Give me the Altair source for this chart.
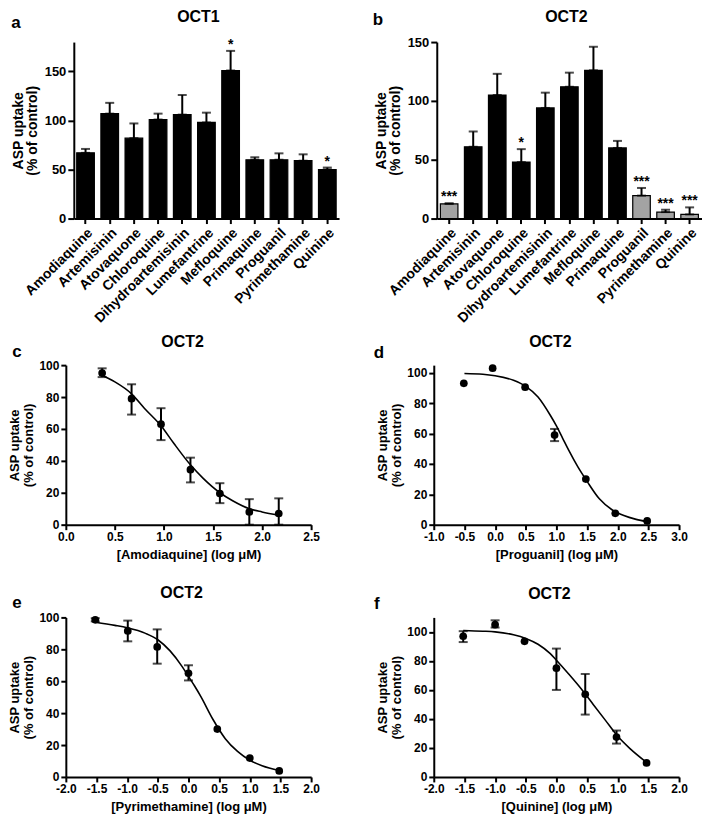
import altair as alt
import pandas as pd

FONT = "Liberation Sans"
YTITLE = ["ASP uptake", "(% of control)"]

# ---- panels a / b : bar charts ----
drugs = ["Amodiaquine", "Artemisinin", "Atovaquone", "Chloroquine", "Dihydroartemisinin",
         "Lumefantrine", "Mefloquine", "Primaquine", "Proguanil", "Pyrimethamine", "Quinine"]
oct1_mean = [67, 107, 82, 101, 106, 98, 151, 60, 60, 59, 50]
oct1_upper = [71, 118, 97, 107, 126, 108, 171, 62.5, 66.5, 65.5, 52]
oct1_sig = ["", "", "", "", "", "", "*", "", "", "", "*"]
oct1_fill = ["black"] * 11

oct2_mean = [12.5, 61, 105, 48, 94, 112, 126, 60, 19.5, 5.5, 3.5]
oct2_upper = [13, 74, 123, 59, 107, 124, 146, 66, 26, 7.5, 9.5]
oct2_sig = ["***", "", "", "*", "", "", "", "", "***", "***", "***"]
oct2_fill = ["#a3a3a3", "black", "black", "black", "black", "black", "black", "black",
             "#a3a3a3", "#a3a3a3", "#a3a3a3"]

# ---- panel c : amodiaquine ----
amod_x = [0.37, 0.67, 0.97, 1.27, 1.57, 1.87, 2.17]
amod_y = [95, 79, 63, 34.5, 19.5, 8, 7]
amod_lo = [92.5, 69, 53, 26.5, 13.5, 0, 0]
amod_hi = [98, 88, 73, 42, 26, 16, 16.5]
amod_cx = [0.37, 0.5, 0.67, 0.8, 0.97, 1.1, 1.27, 1.4, 1.57, 1.7, 1.87, 2.0, 2.17]
amod_cy = [93.5, 89.5, 82, 73, 62, 51, 37.5, 29, 20, 15, 10, 8, 6]

# ---- panel d : proguanil ----
prog_x = [-0.51, -0.04, 0.49, 0.97, 1.48, 1.96, 2.48]
prog_y = [93, 103, 90.5, 59, 30, 7.5, 2.5]
prog_lo = [93, 103, 90.5, 55, 30, 7.5, 2.5]
prog_hi = [93, 103, 90.5, 63, 30, 7.5, 2.5]
prog_cx = [-0.5, -0.2, 0.0, 0.3, 0.5, 0.7, 0.9, 1.0, 1.1, 1.2, 1.35, 1.5, 1.7, 1.9, 2.1, 2.3, 2.48]
prog_cy = [99.5, 99, 98, 95, 91, 84, 72, 65, 57, 49, 38, 28.5, 17, 10, 6, 3.5, 2]

# ---- panel e : pyrimethamine ----
pyr_x = [-1.52, -0.99, -0.51, 0.0, 0.47, 1.0, 1.48]
pyr_y = [98.5, 91.5, 81.5, 65, 30, 11.8, 3.8]
pyr_lo = [97.5, 85, 71, 60.5, 30, 11.8, 3.8]
pyr_hi = [99.5, 98, 92.5, 70, 30, 11.8, 3.8]
pyr_cx = [-1.52, -1.2, -1.0, -0.7, -0.5, -0.3, -0.1, 0.0, 0.1, 0.2, 0.4, 0.6, 0.8, 1.0, 1.2, 1.48]
pyr_cy = [97, 95, 93.5, 90, 86, 79, 69, 63, 57, 50.5, 36, 24, 16, 10.5, 7, 4]

# ---- panel f : quinine ----
qui_x = [-1.52, -1.0, -0.52, 0.0, 0.47, 0.98, 1.47]
qui_y = [97, 105, 93.5, 75, 57, 27.5, 9.7]
qui_lo = [93, 103, 93.5, 60, 43, 23, 9.7]
qui_hi = [100.5, 108, 93.5, 88.5, 71, 32, 9.7]
qui_cx = [-1.52, -1.2, -1.0, -0.7, -0.5, -0.3, -0.1, 0.0, 0.2, 0.4, 0.6, 0.8, 1.0, 1.2, 1.47]
qui_cy = [101, 100.5, 100, 98, 95.5, 91.5, 85, 80.5, 71, 61, 50, 39, 28, 19.5, 10]


def label_layers(title, letter, width, tdx, tdy, ldx, ldy):
    df = pd.DataFrame({"t": [title], "l": [letter]})
    ttl = alt.Chart(df).mark_text(
        font=FONT, fontSize=16, fontWeight="bold", color="black",
        align="center", baseline="alphabetic"
    ).encode(x=alt.value(width / 2 + tdx), y=alt.value(tdy), text="t:N")
    let = alt.Chart(df).mark_text(
        font=FONT, fontSize=17, fontWeight="bold", color="black",
        align="center", baseline="alphabetic"
    ).encode(x=alt.value(ldx), y=alt.value(ldy), text="l:N")
    return [ttl, let]


def bar_panel(title, letter, mean, upper, sig, fill, width, height, ymax, pad_outer,
              tdx, tdy, ldx, ldy):
    df = pd.DataFrame({"drug": drugs, "mean": mean, "upper": upper, "sig": sig, "fill": fill})
    xscale = alt.Scale(paddingInner=0.27, paddingOuter=pad_outer)
    xaxis = alt.Axis(labelAngle=-45, labelFontSize=14, labelPadding=2,
                     tickSize=5, labelOverlap=False)
    yscale = alt.Scale(domain=[0, ymax], nice=False)
    yaxis = alt.Axis(values=[0, 50, 100, 150], labelFontSize=13, titleFontSize=14,
                     titlePadding=5, titleLineHeight=14, tickSize=6, labelPadding=2,
                     labelOverlap=False)
    xenc = alt.X("drug:N", sort=drugs, title=None, scale=xscale, axis=xaxis)
    base = alt.Chart(df)
    bars = base.mark_bar(stroke="black", strokeWidth=1.2).encode(
        x=xenc,
        y=alt.Y("mean:Q", scale=yscale, axis=yaxis, title=YTITLE),
        fill=alt.Fill("fill:N", scale=None),
    )
    err = base.mark_errorbar(ticks=True, size=9, thickness=2, color="black").encode(
        x=xenc,
        y=alt.Y("mean:Q", scale=yscale, axis=yaxis, title=YTITLE),
        y2="upper:Q",
    )
    stars = base.mark_text(font=FONT, fontSize=14, fontWeight="bold", color="black",
                           baseline="bottom", dy=1).encode(
        x=xenc,
        y=alt.Y("upper:Q", scale=yscale, axis=yaxis, title=YTITLE),
        text="sig:N",
    )
    return alt.layer(bars, err, stars,
                     *label_layers(title, letter, width, tdx, tdy, ldx, ldy)).properties(
        width=width, height=height)


def curve_panel(title, letter, px, py, plo, phi, cx, cy, xdom, xticks, ydom, xtitle,
                width, height, tdx, tdy, ldx, ldy):
    pts = pd.DataFrame({"x": px, "y": py, "lo": plo, "hi": phi})
    errs = pts[pts["hi"] > pts["lo"]]
    curve = pd.DataFrame({"x": cx, "y": cy})
    xs = alt.Scale(domain=xdom, nice=False, zero=False)
    ys = alt.Scale(domain=ydom, nice=False)
    xaxis = alt.Axis(values=xticks, labelFontSize=12, titleFontSize=13, tickSize=5,
                     titlePadding=6, labelPadding=2, labelOverlap=False, labelFlush=False,
                     labelExpr="(datum.value < 0 ? '-' : '') + format(abs(datum.value), '.1f')")
    yaxis = alt.Axis(values=[0, 20, 40, 60, 80, 100], labelFontSize=12, titleFontSize=13,
                     titleLineHeight=14, tickSize=5, titlePadding=3, labelPadding=2,
                     labelOverlap=False)
    line = alt.Chart(curve).mark_line(color="black", strokeWidth=1.6,
                                      interpolate="monotone").encode(
        x=alt.X("x:Q", scale=xs, axis=xaxis, title=xtitle),
        y=alt.Y("y:Q", scale=ys, axis=yaxis, title=YTITLE),
    )
    eb = alt.Chart(errs).mark_errorbar(ticks=True, size=9, thickness=2,
                                       color="black").encode(
        x=alt.X("x:Q", scale=xs, axis=xaxis, title=xtitle),
        y=alt.Y("lo:Q", scale=ys, axis=yaxis, title=YTITLE),
        y2="hi:Q",
    )
    dots = alt.Chart(pts).mark_circle(size=60, color="black", opacity=1).encode(
        x=alt.X("x:Q", scale=xs, axis=xaxis, title=xtitle),
        y=alt.Y("y:Q", scale=ys, axis=yaxis, title=YTITLE),
    )
    return alt.layer(line, eb, dots,
                     *label_layers(title, letter, width, tdx, tdy, ldx, ldy)).properties(
        width=width, height=height)


pa = bar_panel("OCT1", "a", oct1_mean, oct1_upper, oct1_sig, oct1_fill, 266, 177, 180, 0.12,
               -8, -20, -58, -14)
pb = bar_panel("OCT2", "b", oct2_mean, oct2_upper, oct2_sig, oct2_fill, 266, 177, 150, 0.15,
               -3, -20, -59, -17)
pc = curve_panel("OCT2", "c", amod_x, amod_y, amod_lo, amod_hi, amod_cx, amod_cy,
                 [0, 2.5], [0, 0.5, 1.0, 1.5, 2.0, 2.5], [0, 100],
                 "[Amodiaquine] (log \u03bcM)", 246, 160, -6, -18, -49, -8)
pd_ = curve_panel("OCT2", "d", prog_x, prog_y, prog_lo, prog_hi, prog_cx, prog_cy,
                  [-1, 3], [-1.0, -0.5, 0, 0.5, 1.0, 1.5, 2.0, 2.5, 3.0], [0, 105],
                  "[Proguanil] (log \u03bcM)", 246, 160, -6, -18, -55, -7)
pe = curve_panel("OCT2", "e", pyr_x, pyr_y, pyr_lo, pyr_hi, pyr_cx, pyr_cy,
                 [-2, 2], [-2.0, -1.5, -1.0, -0.5, 0, 0.5, 1.0, 1.5, 2.0], [0, 100],
                 "[Pyrimethamine] (log \u03bcM)", 246, 160, -7, -19, -49, -9)
pf = curve_panel("OCT2", "f", qui_x, qui_y, qui_lo, qui_hi, qui_cx, qui_cy,
                 [-2, 2], [-2.0, -1.5, -1.0, -0.5, 0, 0.5, 1.0, 1.5, 2.0], [0, 110],
                 "[Quinine] (log \u03bcM)", 246, 160, -7, -18, -57, -8)

spacer = alt.Chart(pd.DataFrame({"v": [0]})).mark_point(opacity=0).encode(
    x=alt.value(0), y=alt.value(0)).properties(width=8, height=10)

# nested flush groups count as zero-size, so spacings below are offsets between plot tops
row1 = alt.hconcat(spacer, alt.hconcat(pa, pb, spacing=98, bounds="flush"),
                   spacing=0, bounds="flush")
row2 = alt.hconcat(pc, pd_, spacing=123, bounds="flush")
row3 = alt.hconcat(pe, pf, spacing=123, bounds="flush")
lower = alt.vconcat(row2, row3, spacing=253, bounds="flush")

chart = alt.vconcat(row1, lower, spacing=324, bounds="flush").properties(
    padding=0
).configure_axis(
    domainColor="black", domainWidth=2, tickColor="black", tickWidth=2,
    labelColor="black", labelFont=FONT, labelFontWeight="bold",
    titleFont=FONT, titleFontWeight="bold", titleColor="black", grid=False,
).configure_view(stroke=None)

chart.save("out.html", embed_options={"renderer": "svg", "actions": False})
